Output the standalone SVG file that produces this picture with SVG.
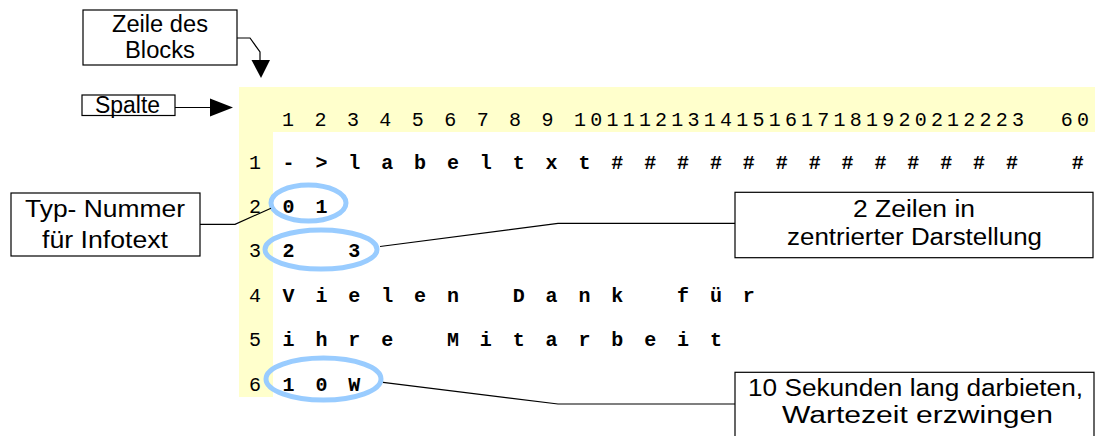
<svg xmlns="http://www.w3.org/2000/svg" width="1095" height="436" viewBox="0 0 1095 436">
  <style>
    .mono { font-family: "Liberation Mono", "DejaVu Sans Mono", monospace; font-size: 20px; fill: #000; }
    .hdr { letter-spacing: 4.22px; }
    .row { font-weight: bold; letter-spacing: 4.44px; }
    .num { text-anchor: middle; }
    .lbl { font-family: "Liberation Sans", Arial, sans-serif; font-size: 23px; fill: #000; }
    .box { fill: #fff; stroke: #000; stroke-width: 1.2; }
    .ring { fill: none; stroke: #99ccff; stroke-width: 5; }
    .wire { fill: none; stroke: #000; stroke-width: 1.2; }
    .head { fill: #000; stroke: none; }
  </style>

  <!-- block grid: yellow header row and row-number column -->
  <g id="grid">
    <rect x="239" y="87" width="856" height="45" fill="#ffffcc"/>
    <rect x="239" y="132" width="34" height="265" fill="#ffffcc"/>
    <text class="mono hdr" x="282" y="126" xml:space="preserve">1 2 3 4 5 6 7 8 9 1011121314151617181920212223  60</text>
    <text class="mono num" x="255" y="169">1</text>
    <text class="mono num" x="255" y="213">2</text>
    <text class="mono num" x="255" y="257">3</text>
    <text class="mono num" x="255" y="302">4</text>
    <text class="mono num" x="255" y="346">5</text>
    <text class="mono num" x="255" y="391">6</text>
    <text class="mono row" x="282.5" y="169" xml:space="preserve">- &gt; l a b e l t x t # # # # # # # # # # # # #   #</text>
    <text class="mono row" x="282.5" y="213" xml:space="preserve">0 1</text>
    <text class="mono row" x="282.5" y="257" xml:space="preserve">2   3</text>
    <text class="mono row" x="282.5" y="302" xml:space="preserve">V i e l e n   D a n k   f ü r</text>
    <text class="mono row" x="282.5" y="346" xml:space="preserve">i h r e   M i t a r b e i t</text>
    <text class="mono row" x="282.5" y="391" xml:space="preserve">1 0 W</text>
  </g>

  <!-- highlight rings -->
  <g id="rings">
    <ellipse class="ring" cx="308.5" cy="203" rx="37.5" ry="18"/>
    <ellipse class="ring" cx="321" cy="249.5" rx="56" ry="19.5"/>
    <ellipse class="ring" cx="323.5" cy="379" rx="57.5" ry="21"/>
  </g>

  <!-- connectors -->
  <g id="connectors">
    <polyline class="wire" points="237,38 250,38 260,52 260,62"/>
    <polygon class="head" points="251.5,60 270,60 261,78"/>
    <line class="wire" x1="175" y1="107.5" x2="212" y2="107.5"/>
    <polygon class="head" points="210,98.5 210,116.5 233,107.5"/>
    <polyline class="wire" points="200,224.3 235,224.3 271,208.3"/>
    <polyline class="wire" points="380,246.5 558,223.3 735,223.3"/>
    <polyline class="wire" points="383,382.3 558,404 735,404"/>
  </g>

  <!-- callout boxes -->
  <g id="node-zeile">
    <rect class="box" x="83" y="10" width="154" height="55"/>
    <text class="lbl" x="112" y="32" textLength="96" lengthAdjust="spacingAndGlyphs">Zeile des</text>
    <text class="lbl" x="125" y="58" textLength="70" lengthAdjust="spacingAndGlyphs">Blocks</text>
  </g>
  <g id="node-spalte">
    <rect class="box" x="82" y="95" width="93" height="20.5"/>
    <text class="lbl" x="95" y="112.5" font-size="20" textLength="65" lengthAdjust="spacingAndGlyphs">Spalte</text>
  </g>
  <g id="node-typ">
    <rect class="box" x="11" y="193" width="189" height="63"/>
    <text class="lbl" x="25" y="217" textLength="160" lengthAdjust="spacingAndGlyphs">Typ- Nummer</text>
    <text class="lbl" x="42" y="248" textLength="126" lengthAdjust="spacingAndGlyphs">für Infotext</text>
  </g>
  <g id="node-zentriert">
    <rect class="box" x="735" y="192.3" width="358" height="65.4"/>
    <text class="lbl" x="853" y="217" textLength="122" lengthAdjust="spacingAndGlyphs">2 Zeilen in</text>
    <text class="lbl" x="787" y="245" textLength="255" lengthAdjust="spacingAndGlyphs">zentrierter Darstellung</text>
  </g>
  <g id="node-wartezeit">
    <rect class="box" x="735" y="372.3" width="359" height="80"/>
    <text class="lbl" x="748" y="396" textLength="335" lengthAdjust="spacingAndGlyphs">10 Sekunden lang darbieten,</text>
    <text class="lbl" x="782" y="423" textLength="271" lengthAdjust="spacingAndGlyphs">Wartezeit erzwingen</text>
  </g>
</svg>
